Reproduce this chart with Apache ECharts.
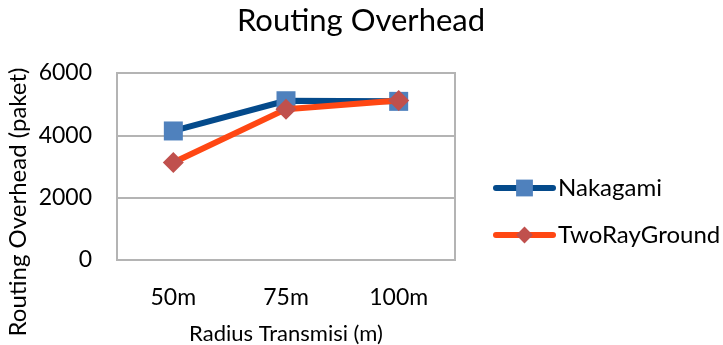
<!DOCTYPE html>
<html>
<head>
<meta charset="utf-8">
<script src="https://cdn.jsdelivr.net/npm/echarts@6/dist/echarts.min.js"></script>
<style>
html,body{margin:0;padding:0;background:#fff;}
#chart{width:723px;height:345px;}
</style>
</head>
<body>
<div id="chart"></div>
<script>
// Radius categories and routing overhead (packets) per propagation model
const categories = ['50m', '75m', '100m'];
const nakagami = [4140, 5110, 5090];
const twoRayGround = [3130, 4840, 5120];
const yTicks = { min: 0, max: 6000, interval: 2000 };

const font = 'Lato, "Open Sans", sans-serif';
const gridColor = '#b4b4b4';
const chart = echarts.init(document.getElementById('chart'));
chart.setOption({
  animation: false,
  backgroundColor: '#ffffff',
  title: {
    text: 'Routing Overhead',
    left: 356, top: 0, textAlign: 'center',
    textStyle: { fontFamily: font, fontSize: 31, fontWeight: 'normal', color: '#000' }
  },
  legend: {
    orient: 'vertical', left: 488, top: 171, itemGap: 23,
    itemWidth: 57, itemHeight: 21,
    lineStyle: { width: 6, cap: 'round' },
    textStyle: { fontFamily: font, fontSize: 24, color: '#000' },
    data: ['Nakagami', 'TwoRayGround']
  },
  grid: {
    left: 117, right: 268, top: 73, bottom: 85,
    outerBoundsMode: 'none',
    show: true, borderColor: gridColor, borderWidth: 2
  },
  xAxis: {
    type: 'category', data: categories, boundaryGap: true,
    name: 'Radius Transmisi (m)', nameLocation: 'middle', nameGap: 63,
    nameTextStyle: { fontFamily: font, fontSize: 22, color: '#000' },
    axisLine: { lineStyle: { color: gridColor, width: 2 } },
    axisTick: { show: false },
    axisLabel: { fontFamily: font, fontSize: 23, color: '#000', margin: 26 }
  },
  yAxis: {
    type: 'value', min: yTicks.min, max: yTicks.max, interval: yTicks.interval,
    axisLine: { show: true, lineStyle: { color: gridColor, width: 2 } },
    axisTick: { show: false },
    splitLine: { lineStyle: { color: gridColor, width: 2 } },
    axisLabel: {
      fontFamily: font, fontSize: 23, color: '#000', margin: 25,
      formatter: v => String(v)
    }
  },
  graphic: [{
    type: 'text', x: 18, y: 202, rotation: Math.PI / 2,
    style: {
      text: 'Routing Overhead (paket)', fill: '#000',
      font: '24px ' + font, align: 'center', verticalAlign: 'middle'
    }
  }],
  series: [
    {
      name: 'Nakagami', type: 'line', data: nakagami,
      symbol: 'rect', symbolSize: 19,
      lineStyle: { color: '#044a8b', width: 6 },
      itemStyle: { color: '#4f81bd' },
      z: 2
    },
    {
      name: 'TwoRayGround', type: 'line', data: twoRayGround,
      symbol: 'diamond', symbolSize: 21,
      lineStyle: { color: '#ff4713', width: 6 },
      itemStyle: { color: '#c0504d' },
      z: 3
    }
  ]
});
</script>
</body>
</html>
